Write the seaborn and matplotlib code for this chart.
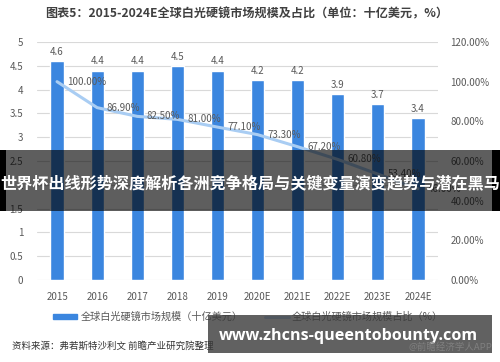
import numpy as np
import pandas as pd
import matplotlib
matplotlib.use("Agg")
import matplotlib.pyplot as plt
from matplotlib.patches import Rectangle, Patch
from matplotlib.lines import Line2D
import seaborn as sns

years = ["2015", "2016", "2017", "2018", "2019", "2020E", "2021E", "2022E", "2023E", "2024E"]
market_size = [4.6, 4.4, 4.4, 4.5, 4.4, 4.2, 4.2, 3.9, 3.7, 3.4]
share_pct = [100.0, 86.9, 82.5, 81.0, 77.1, 73.3, 67.2, 60.8, 53.4, 46.0]
left_ticks = [0, 0.5, 1, 1.5, 2, 2.5, 3, 3.5, 4, 4.5, 5]
right_ticks = [0, 20, 40, 60, 80, 100, 120]

title = "图表5：2015-2024E全球白光硬镜市场规模及占比（单位：十亿美元，%）"
bar_name = "全球白光硬镜市场规模（十亿美元）"
line_name = "全球白光硬镜市场规模占比（%）"
source = "资料来源：弗若斯特沙利文 前瞻产业研究院整理"
credit = "@前瞻经济学人APP"
banner = "世界杯出线形势深度解析各洲竞争格局与关键变量演变趋势与潜在黑马"
url = "www.zhcns-queentobounty.com"

df = pd.DataFrame({"year": years, "size": market_size, "share": share_pct})
df["pos"] = df.index

sns.set_theme(style="white")
plt.rcParams["font.family"] = ["Noto Sans CJK SC", "DejaVu Sans"]

BAR = "#3B86DF"
LINE = "#A9CDF3"
TXT = "#595959"

fig = plt.figure(figsize=(5, 3.62), dpi=100)
ax = fig.add_axes([37/500, 1-280/362, (438-37)/500, (280-42)/362])

sns.barplot(data=df, x="year", y="size", color=BAR, width=0.33, ax=ax,
            saturation=1, zorder=2)
ax.set_xlim(-0.5, len(years)-0.5)
ax.set_ylim(0, 5)
ax.set_yticks(left_ticks)
ax.set_yticklabels([f"{t:g}" for t in left_ticks])
ax.grid(axis="y", color="#D9D9D9", lw=0.8, zorder=0)
ax.set_axisbelow(True)
for s in ax.spines.values():
    s.set_visible(False)
ax.set_xlabel("")
ax.set_ylabel("")
ax.tick_params(axis="both", length=0, labelsize=7, labelcolor=TXT)
ax.tick_params(axis="x", pad=9)
ax.tick_params(axis="y", pad=10)
for c in ax.containers:
    ax.bar_label(c, labels=[f"{v:g}" for v in market_size], padding=3,
                 fontsize=7, color=TXT)

ax2 = ax.twinx()
sns.lineplot(data=df, x="pos", y="share", color=LINE, lw=2.2, ax=ax2, sort=False)
ax2.set_ylim(0, 120)
ax2.set_yticks(right_ticks)
ax2.set_yticklabels([f"{t:.2f}%" for t in right_ticks])
ax2.tick_params(axis="y", length=0, labelsize=7, labelcolor=TXT, pad=9)
ax2.set_xlabel("")
ax2.set_ylabel("")
for s in ax2.spines.values():
    s.set_visible(False)
for i, v in enumerate(share_pct):
    ax2.annotate(f"{v:.2f}%", (df["pos"][i], v), xytext=(7, 0),
                 textcoords="offset points", ha="left", va="center",
                 fontsize=7, color=TXT)
ax.set_xlim(-0.5, len(years)-0.5)

fig.text(247/500, 1-14/362, title, ha="center", va="center", fontsize=8.7,
         fontweight="bold", color="#404040")

handles = [Patch(color=BAR), Line2D([0], [0], color=LINE, lw=2.2)]
fig.legend(handles, [bar_name, line_name], loc="center",
           bbox_to_anchor=(248/500, 1-317/362), ncol=2, frameon=False,
           fontsize=7.3, labelcolor=TXT, handlelength=2.4, handleheight=0.5,
           columnspacing=2.2, handletextpad=0.3)

fig.text(12/500, 1-346/362, source, ha="left", va="center", fontsize=6.8,
         color="#333333")
fig.text(492/500, 1-347/362, credit, ha="right", va="center", fontsize=6.8,
         color="#808080", zorder=12)

# overlay banner across the middle
fig.patches.append(Rectangle((6/500, 1-211/362), 486/500, 61/362,
                             transform=fig.transFigure, color="black",
                             alpha=0.63, zorder=10, lw=0))
fig.patches.append(Rectangle((0, 1-211/362), 6/500, 61/362,
                             transform=fig.transFigure, color="black",
                             zorder=10, lw=0))
fig.patches.append(Rectangle((492/500, 1-211/362), 8/500, 61/362,
                             transform=fig.transFigure, color="black",
                             zorder=10, lw=0))
fig.text(0.5, 1-183/362, banner, ha="center", va="center", fontsize=11.6,
         fontweight="bold", color="white", zorder=11)

# bottom url box
fig.patches.append(Rectangle((208/500, 1-353/362), 284/500, 38/362,
                             transform=fig.transFigure, color="#3a3a3a",
                             alpha=0.8, zorder=10, lw=0))
fig.text(348/500, 1-336/362, url, ha="center", va="center", fontsize=11.6,
         fontweight="bold", color="white", zorder=11,
         family=["Open Sans", "DejaVu Sans"])

fig.savefig("out.png", dpi=100)
